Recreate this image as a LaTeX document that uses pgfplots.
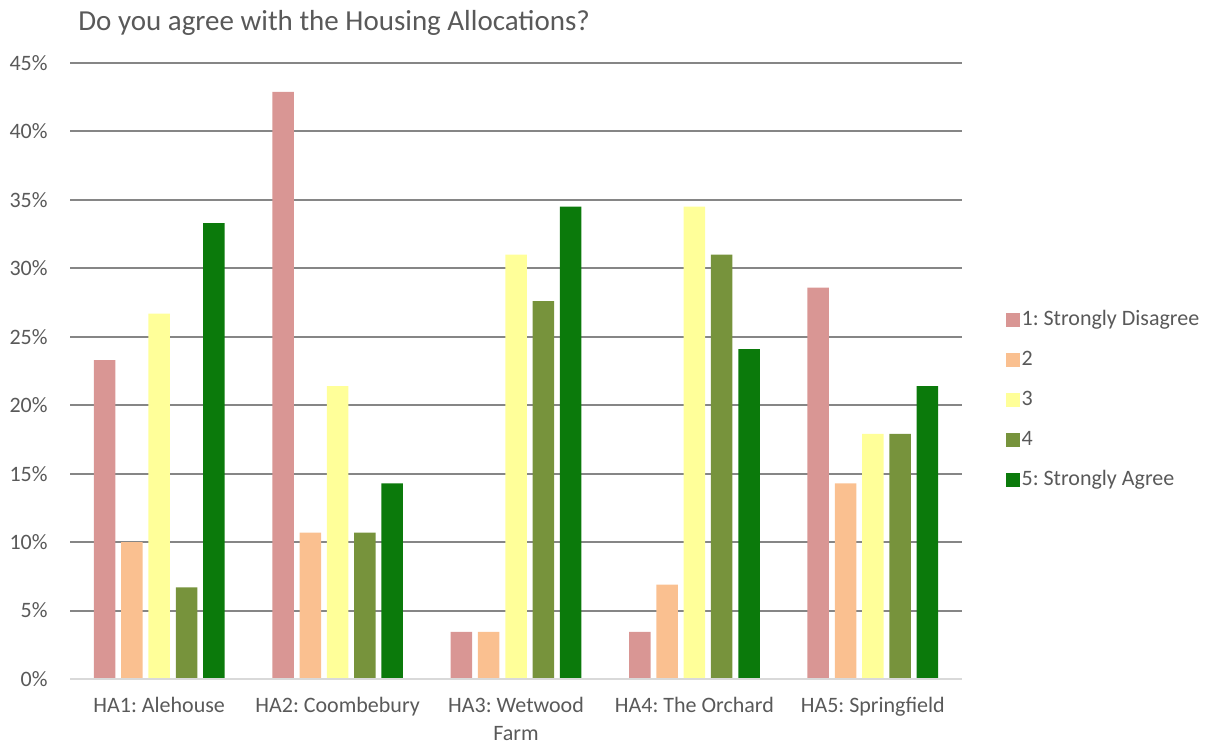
\documentclass[border=0pt]{standalone}
\usepackage{pgfplots}
\pgfplotsset{compat=1.18}
\usepackage{fontspec}
\setmainfont{Carlito}
\frenchspacing
\definecolor{txt}{HTML}{595959}
\definecolor{gridc}{HTML}{868686}
\definecolor{basec}{HTML}{D9D9D9}
\definecolor{c1}{HTML}{D99694}
\definecolor{c2}{HTML}{FAC090}
\definecolor{c3}{HTML}{FFFF99}
\definecolor{c4}{HTML}{77933C}
\definecolor{c5}{HTML}{0B7A0B}

\begin{document}
\begin{tikzpicture}
  \path[use as bounding box] (0,0) rectangle (605pt,372.5pt);
  \node[anchor=base west, inner sep=0pt, text=txt, font=\fontsize{14.5}{17}\selectfont]
    at (39pt,357pt) {Do you agree with the Housing Allocations?};
  \begin{axis}[
    at={(35pt,33pt)}, anchor=south west,
    scale only axis, width=446pt, height=308pt,
    ymin=0, ymax=45, xmin=-0.5, xmax=4.5,
    ybar=2.9pt, bar width=10.75pt,
    axis line style={draw=none},
    major tick length=0pt,
    ytick={0,5,...,45},
    yticklabel={\pgfmathprintnumber{\tick}\%},
    /pgf/number format/assume math mode=true,
    ymajorgrids, major grid style={gridc, line width=1pt},
    xtick={0,...,4},
    xticklabels={HA1: Alehouse, HA2: Coombebury, {HA3: Wetwood\\Farm}, HA4: The Orchard, HA5: Springfield},
    xticklabel style={align=center, anchor=north, inner sep=0pt, yshift=-9pt},
    yticklabel style={anchor=east, inner sep=0pt, xshift=-11pt},
    ticklabel style={text=txt, font=\fontsize{11}{14}\selectfont},
    legend style={at={(1.0426,0.453)}, anchor=west, draw=none, fill=none,
      font=\fontsize{11}{14}\selectfont, text=txt, row sep=7.5pt,
      nodes={inner sep=1pt, text height=8pt, text depth=2.5pt}},
    legend cell align=left,
    legend image code/.code={\path[#1] (0pt,-3.3pt) rectangle (6.6pt,3.3pt);},
  ]
    \addplot[fill=c1, draw=none] coordinates {(0,23.3) (1,42.9) (2,3.45) (3,3.45) (4,28.6)};
    \addplot[fill=c2, draw=none] coordinates {(0,10.0) (1,10.7) (2,3.45) (3,6.9) (4,14.3)};
    \addplot[fill=c3, draw=none] coordinates {(0,26.7) (1,21.4) (2,31.0) (3,34.5) (4,17.9)};
    \addplot[fill=c4, draw=none] coordinates {(0,6.7) (1,10.7) (2,27.6) (3,31.0) (4,17.9)};
    \addplot[fill=c5, draw=none] coordinates {(0,33.3) (1,14.3) (2,34.5) (3,24.1) (4,21.4)};
    \legend{1: Strongly Disagree, 2, 3, 4, 5: Strongly Agree}
    \draw[basec, line width=1pt] (axis cs:-0.5,0) -- (axis cs:4.5,0);
  \end{axis}
\end{tikzpicture}
\end{document}
